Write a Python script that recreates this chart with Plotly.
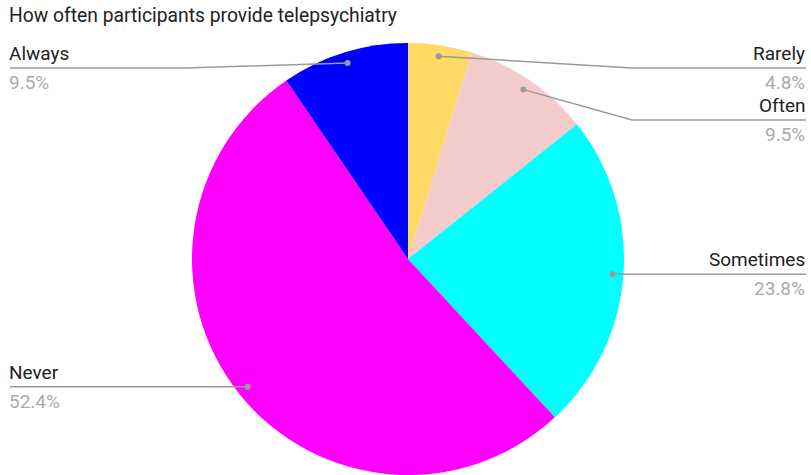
import math
import plotly.graph_objects as go

# Survey answers, in clockwise order starting at 12 o'clock
categories = ["Rarely", "Often", "Sometimes", "Never", "Always"]
counts = [1, 2, 5, 11, 2]
colors = ["#FFD966", "#F4CCCC", "#00FFFF", "#FF00FF", "#0000FF"]
title_text = "How often participants provide telepsychiatry"

W, H = 811, 475
CX, CY, R = 408, 259, 216          # pie centre / radius in pixels
DOT_R = 205                        # where leader lines touch the slices

# label rows: side, y of the leader line, elbow x
label_layout = {
    "Rarely":    ("right", 68, 632),
    "Often":     ("right", 120, 632),
    "Sometimes": ("right", None, None),
    "Never":     ("left", None, None),
    "Always":    ("left", 68, 185),
}

LINE = "#9a9a9a"
FONT = "Roboto"

fig = go.Figure()
fig.add_trace(go.Pie(
    labels=categories, values=counts, sort=False, direction="clockwise",
    rotation=0, marker=dict(colors=colors, line=dict(width=0)),
    textinfo="none", hoverinfo="label+percent", showlegend=False,
    domain=dict(x=[(CX - R) / W, (CX + R) / W], y=[1 - (CY + R) / H, 1 - (CY - R) / H]),
))

total = sum(counts)
cum = 0
annotations = []
shapes = []
for name, v in zip(categories, counts):
    frac = v / total
    mid = (cum + frac / 2) * 2 * math.pi
    cum += frac
    dx = CX + DOT_R * math.sin(mid)
    dy = CY - DOT_R * math.cos(mid)
    side, ly, ex = label_layout[name]
    if ly is None:
        ly = dy
        ex = dx
    end_x = 806 if side == "right" else 10
    path = f"M{dx},{dy} L{ex},{ly} L{end_x},{ly}"
    shapes.append(dict(type="path", path=path, xref="x", yref="y", layer="above",
                       line=dict(color=LINE, width=1.5)))
    shapes.append(dict(type="circle", xref="x", yref="y", layer="above",
                       x0=dx - 3, x1=dx + 3, y0=dy - 3, y1=dy + 3,
                       fillcolor=LINE, line=dict(width=0)))
    anchor = "right" if side == "right" else "left"
    shift = 1 if side == "right" else -3
    annotations.append(dict(x=end_x, y=ly - 1, text=name, showarrow=False, xanchor=anchor,
                            yanchor="bottom", xshift=shift,
                            font=dict(family=FONT, size=19, color="#222222")))
    annotations.append(dict(x=end_x, y=ly + 1, text=f"{frac * 100:.1f}%", showarrow=False,
                            xanchor=anchor, yanchor="top", xshift=shift,
                            font=dict(family=FONT, size=19, color="#aaaaaa")))

annotations.append(dict(x=7, y=15, text=title_text, showarrow=False, xanchor="left",
                        yanchor="middle", font=dict(family=FONT, size=19.3, color="#222222")))

fig.update_layout(
    width=W, height=H, margin=dict(l=0, r=0, t=0, b=0),
    paper_bgcolor="white", plot_bgcolor="rgba(0,0,0,0)",
    xaxis=dict(range=[0, W], visible=False, fixedrange=True),
    yaxis=dict(range=[H, 0], visible=False, fixedrange=True),
    annotations=annotations, shapes=shapes,
)
for a in fig.layout.annotations:
    a.xref = "x"
    a.yref = "y"

fig.write_html("out.html")
